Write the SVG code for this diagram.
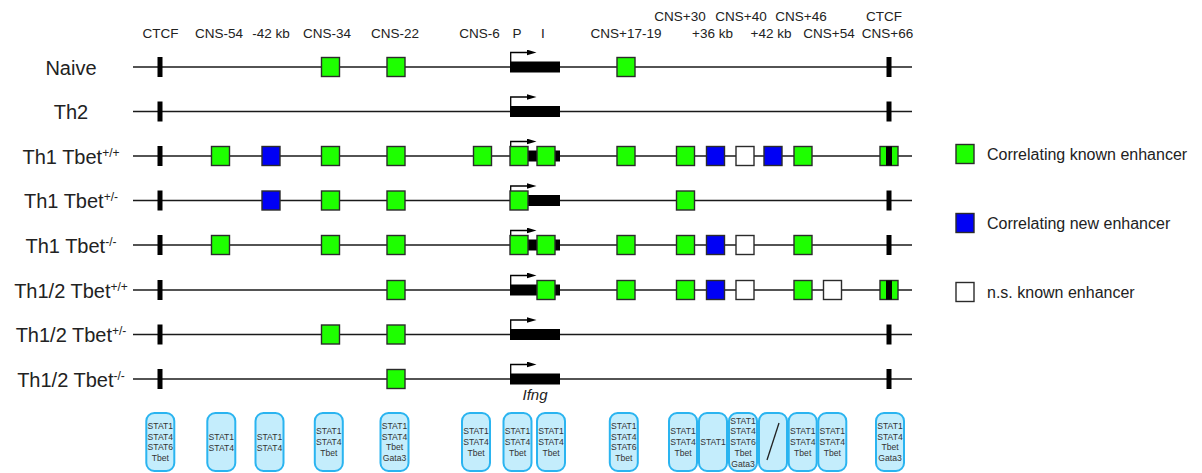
<svg xmlns="http://www.w3.org/2000/svg" width="1202" height="473" viewBox="0 0 1202 473">
<defs>
<style>
text{font-family:"Liberation Sans",Arial,Helvetica,sans-serif;fill:#222}
.hdr{font-size:13.5px;text-anchor:middle}
.rl{font-size:20px;text-anchor:middle}
.sup{font-size:12px}
.trk{stroke:#1a1a1a;stroke-width:1.5}
.sq{stroke:#2b2b2b;stroke-width:1.4}
.g{fill:#1eff00}
.b{fill:#0000f5}
.w{fill:#fff}
.tf rect{fill:#c4edfc;stroke:#2ab4f0;stroke-width:2}
.tf text{font-size:8.6px;text-anchor:middle;fill:#333}
.leg{font-size:16px}
.gn{font-size:15px;font-style:italic;text-anchor:middle}
</style>
<marker id="ah" viewBox="0 0 10 6" refX="0.5" refY="3" markerWidth="10" markerHeight="6" markerUnits="userSpaceOnUse" orient="auto"><path d="M0,0 L10,3 L0,6 Z" fill="#000"/></marker>
<!-- Ifng gene body with transcription start arrow, drawn on a track at y=0 -->
<g id="gene"><rect x="510" y="-5.5" width="50" height="11" fill="#000"/><path d="M510.7,-5 V-14.5 H527" fill="none" stroke="#000" stroke-width="1.3" marker-end="url(#ah)"/></g>
<rect id="ctcfL" x="157.5" y="-10" width="5" height="20" fill="#000"/>
<rect id="ctcfR" x="886.5" y="-10" width="5" height="20" fill="#000"/>
</defs>

<rect width="1202" height="473" fill="#fff"/>

<!-- element names along the locus -->
<g id="header">
<text class="hdr" x="680" y="20.5">CNS+30</text>
<text class="hdr" x="741" y="20.5">CNS+40</text>
<text class="hdr" x="801" y="20.5">CNS+46</text>
<text class="hdr" x="884" y="20.5">CTCF</text>
<text class="hdr" x="160.5" y="37.5">CTCF</text>
<text class="hdr" x="219" y="37.5">CNS-54</text>
<text class="hdr" x="271" y="37.5">-42 kb</text>
<text class="hdr" x="327" y="37.5">CNS-34</text>
<text class="hdr" x="395" y="37.5">CNS-22</text>
<text class="hdr" x="479.5" y="37.5">CNS-6</text>
<text class="hdr" x="517" y="37.5">P</text>
<text class="hdr" x="543" y="37.5">I</text>
<text class="hdr" x="626" y="37.5">CNS+17-19</text>
<text class="hdr" x="712.5" y="37.5">+36 kb</text>
<text class="hdr" x="771" y="37.5">+42 kb</text>
<text class="hdr" x="829" y="37.5">CNS+54</text>
<text class="hdr" x="887.5" y="37.5">CNS+66</text>
</g>

<!-- locus tracks -->
<g id="connectors">
<line class="trk" x1="133" y1="67" x2="912" y2="67"/>
<line class="trk" x1="133" y1="111.5" x2="912" y2="111.5"/>
<line class="trk" x1="133" y1="156" x2="912" y2="156"/>
<line class="trk" x1="133" y1="200.5" x2="912" y2="200.5"/>
<line class="trk" x1="133" y1="245" x2="912" y2="245"/>
<line class="trk" x1="133" y1="290" x2="912" y2="290"/>
<line class="trk" x1="133" y1="334.5" x2="912" y2="334.5"/>
<line class="trk" x1="133" y1="379" x2="912" y2="379"/>
</g>

<g id="row-naive" transform="translate(0,67)">
<text class="rl" x="71" y="7.5">Naive</text>
<use href="#ctcfL"/><use href="#ctcfR"/>
<rect class="sq g" x="321.5" y="-9.5" width="18" height="19"/>
<rect class="sq g" x="387" y="-9.5" width="18" height="19"/>
<use href="#gene"/>
<rect class="sq g" x="617" y="-9.5" width="18" height="19"/>
</g>

<g id="row-th2" transform="translate(0,111.5)">
<text class="rl" x="71" y="7.5">Th2</text>
<use href="#ctcfL"/><use href="#ctcfR"/>
<use href="#gene"/>
</g>

<g id="row-th1-wt" transform="translate(0,156)">
<text class="rl" x="71" y="7.5">Th1 Tbet<tspan class="sup" dy="-7">+/+</tspan></text>
<use href="#ctcfL"/>
<rect class="sq g" x="211.5" y="-9.5" width="18" height="19"/>
<rect class="sq b" x="262" y="-9.5" width="18" height="19"/>
<rect class="sq g" x="321.5" y="-9.5" width="18" height="19"/>
<rect class="sq g" x="387" y="-9.5" width="18" height="19"/>
<rect class="sq g" x="473.5" y="-9.5" width="18" height="19"/>
<use href="#gene"/>
<rect class="sq g" x="510" y="-9.5" width="18" height="19"/>
<rect class="sq g" x="537" y="-9.5" width="18" height="19"/>
<rect class="sq g" x="617" y="-9.5" width="18" height="19"/>
<rect class="sq g" x="676.5" y="-9.5" width="18" height="19"/>
<rect class="sq b" x="706.5" y="-9.5" width="18" height="19"/>
<rect class="sq w" x="736" y="-9.5" width="18" height="19"/>
<rect class="sq b" x="764" y="-9.5" width="18" height="19"/>
<rect class="sq g" x="794" y="-9.5" width="18" height="19"/>
<rect class="sq g" x="880" y="-9.5" width="18" height="19"/>
<rect x="886" y="-9.5" width="6" height="19" fill="#000"/>
</g>

<g id="row-th1-het" transform="translate(0,200.5)">
<text class="rl" x="71" y="7.5">Th1 Tbet<tspan class="sup" dy="-7">+/-</tspan></text>
<use href="#ctcfL"/><use href="#ctcfR"/>
<rect class="sq b" x="262" y="-9.5" width="18" height="19"/>
<rect class="sq g" x="321.5" y="-9.5" width="18" height="19"/>
<rect class="sq g" x="387" y="-9.5" width="18" height="19"/>
<use href="#gene"/>
<rect class="sq g" x="510" y="-9.5" width="18" height="19"/>
<rect class="sq g" x="676.5" y="-9.5" width="18" height="19"/>
</g>

<g id="row-th1-ko" transform="translate(0,245)">
<text class="rl" x="71" y="7.5">Th1 Tbet<tspan class="sup" dy="-7">-/-</tspan></text>
<use href="#ctcfL"/><use href="#ctcfR"/>
<rect class="sq g" x="211.5" y="-9.5" width="18" height="19"/>
<rect class="sq g" x="321.5" y="-9.5" width="18" height="19"/>
<rect class="sq g" x="387" y="-9.5" width="18" height="19"/>
<use href="#gene"/>
<rect class="sq g" x="510" y="-9.5" width="18" height="19"/>
<rect class="sq g" x="537" y="-9.5" width="18" height="19"/>
<rect class="sq g" x="617" y="-9.5" width="18" height="19"/>
<rect class="sq g" x="676.5" y="-9.5" width="18" height="19"/>
<rect class="sq b" x="706.5" y="-9.5" width="18" height="19"/>
<rect class="sq w" x="736" y="-9.5" width="18" height="19"/>
<rect class="sq g" x="794" y="-9.5" width="18" height="19"/>
</g>

<g id="row-th12-wt" transform="translate(0,290)">
<text class="rl" x="71" y="7.5">Th1/2 Tbet<tspan class="sup" dy="-7">+/+</tspan></text>
<use href="#ctcfL"/>
<rect class="sq g" x="387" y="-9.5" width="18" height="19"/>
<use href="#gene"/>
<rect class="sq g" x="537" y="-9.5" width="18" height="19"/>
<rect class="sq g" x="617" y="-9.5" width="18" height="19"/>
<rect class="sq g" x="676.5" y="-9.5" width="18" height="19"/>
<rect class="sq b" x="706.5" y="-9.5" width="18" height="19"/>
<rect class="sq w" x="736" y="-9.5" width="18" height="19"/>
<rect class="sq g" x="794" y="-9.5" width="18" height="19"/>
<rect class="sq w" x="823.5" y="-9.5" width="18" height="19"/>
<rect class="sq g" x="880" y="-9.5" width="18" height="19"/>
<rect x="886" y="-9.5" width="6" height="19" fill="#000"/>
</g>

<g id="row-th12-het" transform="translate(0,334.5)">
<text class="rl" x="71" y="7.5">Th1/2 Tbet<tspan class="sup" dy="-7">+/-</tspan></text>
<use href="#ctcfL"/><use href="#ctcfR"/>
<rect class="sq g" x="321.5" y="-9.5" width="18" height="19"/>
<rect class="sq g" x="387" y="-9.5" width="18" height="19"/>
<use href="#gene"/>
</g>

<g id="row-th12-ko" transform="translate(0,379)">
<text class="rl" x="71" y="7.5">Th1/2 Tbet<tspan class="sup" dy="-7">-/-</tspan></text>
<use href="#ctcfL"/><use href="#ctcfR"/>
<rect class="sq g" x="387" y="-9.5" width="18" height="19"/>
<use href="#gene"/>
</g>

<text id="gene-name" class="gn" x="535" y="399.5">Ifng</text>

<!-- transcription factors bound at each element -->
<g id="tf-ctcf-l" class="tf"><rect x="146.3" y="413" width="28" height="58" rx="8"/><text x="160.3" y="429.05">STAT1<tspan x="160.3" dy="10.7">STAT4</tspan><tspan x="160.3" dy="10.7">STAT6</tspan><tspan x="160.3" dy="10.7">Tbet</tspan></text></g>
<g id="tf-cns-54" class="tf"><rect x="207.3" y="413" width="28" height="58" rx="8"/><text x="221.3" y="439.8">STAT1<tspan x="221.3" dy="10.7">STAT4</tspan></text></g>
<g id="tf-42kb" class="tf"><rect x="255.5" y="413" width="28" height="58" rx="8"/><text x="269.5" y="439.8">STAT1<tspan x="269.5" dy="10.7">STAT4</tspan></text></g>
<g id="tf-cns-34" class="tf"><rect x="314.8" y="413" width="28" height="58" rx="8"/><text x="328.8" y="434.4">STAT1<tspan x="328.8" dy="10.7">STAT4</tspan><tspan x="328.8" dy="10.7">Tbet</tspan></text></g>
<g id="tf-cns-22" class="tf"><rect x="380.5" y="413" width="28" height="58" rx="8"/><text x="394.5" y="429.05">STAT1<tspan x="394.5" dy="10.7">STAT4</tspan><tspan x="394.5" dy="10.7">Tbet</tspan><tspan x="394.5" dy="10.7">Gata3</tspan></text></g>
<g id="tf-cns-6" class="tf"><rect x="462" y="413" width="28" height="58" rx="8"/><text x="476" y="434.4">STAT1<tspan x="476" dy="10.7">STAT4</tspan><tspan x="476" dy="10.7">Tbet</tspan></text></g>
<g id="tf-p" class="tf"><rect x="503.5" y="413" width="28" height="58" rx="8"/><text x="517.5" y="434.4">STAT1<tspan x="517.5" dy="10.7">STAT4</tspan><tspan x="517.5" dy="10.7">Tbet</tspan></text></g>
<g id="tf-i" class="tf"><rect x="537" y="413" width="28" height="58" rx="8"/><text x="551" y="434.4">STAT1<tspan x="551" dy="10.7">STAT4</tspan><tspan x="551" dy="10.7">Tbet</tspan></text></g>
<g id="tf-cns17-19" class="tf"><rect x="609.8" y="413" width="28" height="58" rx="8"/><text x="623.8" y="429.05">STAT1<tspan x="623.8" dy="10.7">STAT4</tspan><tspan x="623.8" dy="10.7">STAT6</tspan><tspan x="623.8" dy="10.7">Tbet</tspan></text></g>
<g id="tf-cns30" class="tf"><rect x="669" y="413" width="28" height="58" rx="8"/><text x="683" y="434.4">STAT1<tspan x="683" dy="10.7">STAT4</tspan><tspan x="683" dy="10.7">Tbet</tspan></text></g>
<g id="tf-36kb" class="tf"><rect x="699" y="413" width="28" height="58" rx="8"/><text x="713" y="445.1">STAT1</text></g>
<g id="tf-cns40" class="tf"><rect x="729" y="413" width="28" height="58" rx="8"/><text x="743" y="423.7">STAT1<tspan x="743" dy="10.7">STAT4</tspan><tspan x="743" dy="10.7">STAT6</tspan><tspan x="743" dy="10.7">Tbet</tspan><tspan x="743" dy="10.7">Gata3</tspan></text></g>
<g id="tf-42kb-r" class="tf"><rect x="759" y="413" width="28" height="58" rx="8"/><line x1="779" y1="423" x2="767" y2="460" stroke="#222" stroke-width="1.3"/></g>
<g id="tf-cns46" class="tf"><rect x="788.7" y="413" width="28" height="58" rx="8"/><text x="802.7" y="434.4">STAT1<tspan x="802.7" dy="10.7">STAT4</tspan><tspan x="802.7" dy="10.7">Tbet</tspan></text></g>
<g id="tf-cns54" class="tf"><rect x="818.3" y="413" width="28" height="58" rx="8"/><text x="832.3" y="434.4">STAT1<tspan x="832.3" dy="10.7">STAT4</tspan><tspan x="832.3" dy="10.7">Tbet</tspan></text></g>
<g id="tf-ctcf-r" class="tf"><rect x="876" y="413" width="28" height="58" rx="8"/><text x="890" y="429.05">STAT1<tspan x="890" dy="10.7">STAT4</tspan><tspan x="890" dy="10.7">Tbet</tspan><tspan x="890" dy="10.7">Gata3</tspan></text></g>

<g id="legend">
<rect class="sq g" x="956" y="144.5" width="18" height="19"/>
<text class="leg" x="987" y="159.5">Correlating known enhancer</text>
<rect class="sq b" x="956" y="213.5" width="18" height="19"/>
<text class="leg" x="987" y="228.5">Correlating new enhancer</text>
<rect class="sq w" x="956" y="282.5" width="18" height="19"/>
<text class="leg" x="987" y="297.5">n.s. known enhancer</text>
</g>
</svg>
